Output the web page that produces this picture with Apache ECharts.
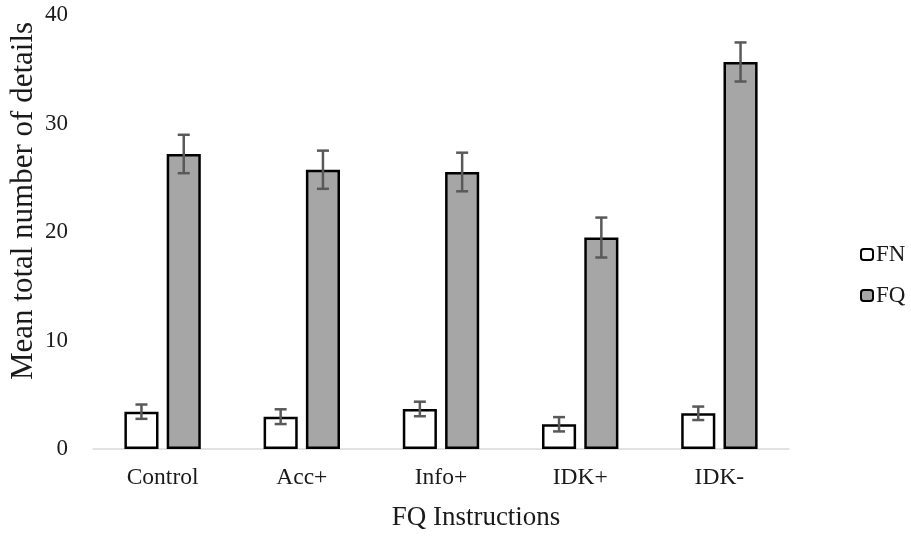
<!DOCTYPE html>
<html>
<head>
<meta charset="utf-8">
<script src="https://cdn.jsdelivr.net/npm/echarts@6/dist/echarts.min.js"></script>
<style>
  html, body { margin: 0; padding: 0; background: #fff; }
  #chart { width: 911px; height: 546px; }
</style>
</head>
<body>
<div id="chart"></div>
<script>
// Mean total number of details by instruction condition, with error bars
var categories = ['Control', 'Acc+', 'Info+', 'IDK+', 'IDK-'];
var fnMeans = [3.44, 2.98, 3.69, 2.28, 3.29];
var fnErrors = [0.66, 0.68, 0.67, 0.66, 0.62];
var fqMeans = [27.19, 25.74, 25.53, 19.49, 35.67];
var fqErrors = [1.77, 1.76, 1.78, 1.84, 1.80];
var yTicks = [0, 10, 20, 30, 40];
var xTitle = 'FQ Instructions';
var yTitle = 'Mean total number of details';

var FONT = '"Liberation Serif", "Times New Roman", serif';
var TEXT_COLOR = '#1a1a1a';
var BAR_WIDTH_RATIO = 0.245;  // bar width as a share of the category band
var BAR_GAP_RATIO = 0.24;     // gap between the two bars, as a share of bar width

function errorData(means, errs) {
  return means.map(function (m, i) { return [i, m - errs[i], m + errs[i]]; });
}

// Draws a capped vertical error bar over the bar of one series
function errorRenderer(side) {
  return function (params, api) {
    var idx = api.value(0);
    var lo = api.coord([idx, api.value(1)]);
    var hi = api.coord([idx, api.value(2)]);
    var band = api.size([1, 0])[0];
    var bw = band * BAR_WIDTH_RATIO;
    var x = lo[0] + side * (bw + bw * BAR_GAP_RATIO) / 2;
    var cap = 6;
    var style = { stroke: '#595959', lineWidth: 2.5, fill: null };
    return {
      type: 'group',
      children: [
        { type: 'line', shape: { x1: x, y1: hi[1], x2: x, y2: lo[1] }, style: style },
        { type: 'line', shape: { x1: x - cap, y1: hi[1], x2: x + cap, y2: hi[1] }, style: style },
        { type: 'line', shape: { x1: x - cap, y1: lo[1], x2: x + cap, y2: lo[1] }, style: style }
      ]
    };
  };
}

var chart = echarts.init(document.getElementById('chart'), null, { renderer: 'canvas' });

chart.setOption({
  backgroundColor: '#ffffff',
  animation: false,
  textStyle: { fontFamily: FONT, color: TEXT_COLOR },
  grid: { left: 93, right: 122, top: 15, bottom: 97, containLabel: false },
  legend: {
    orient: 'vertical',
    left: 855,
    top: 238,
    padding: 5,
    itemWidth: 12,
    itemHeight: 11,
    itemGap: 18,
    textStyle: { fontFamily: FONT, fontSize: 23, color: TEXT_COLOR, padding: [0, 0, 0, -2] },
    data: [
      { name: 'FN', itemStyle: { color: '#ffffff', borderColor: '#000', borderWidth: 2 } },
      { name: 'FQ', itemStyle: { color: '#a6a6a6', borderColor: '#000', borderWidth: 2 } }
    ]
  },
  graphic: [
    {
      type: 'text',
      x: 24,
      y: 201,
      rotation: Math.PI / 2,
      style: {
        text: yTitle,
        font: '31px ' + FONT,
        fill: TEXT_COLOR,
        align: 'center',
        verticalAlign: 'middle'
      }
    },
    {
      type: 'text',
      x: 476,
      y: 518,
      style: {
        text: xTitle,
        font: '27px ' + FONT,
        fill: TEXT_COLOR,
        align: 'center',
        verticalAlign: 'middle'
      }
    }
  ],
  xAxis: {
    type: 'category',
    data: categories,
    axisLine: { lineStyle: { color: '#d9d9d9', width: 1.5 } },
    axisTick: { show: false },
    axisLabel: { fontFamily: FONT, fontSize: 23.5, color: TEXT_COLOR, margin: 17 }
  },
  yAxis: {
    type: 'value',
    min: yTicks[0],
    max: yTicks[yTicks.length - 1],
    interval: 10,
    axisLine: { show: false },
    axisTick: { show: false },
    splitLine: { show: false },
    axisLabel: { fontFamily: FONT, fontSize: 23, color: TEXT_COLOR, margin: 25 }
  },
  series: [
    {
      name: 'FN',
      type: 'bar',
      data: fnMeans,
      barWidth: (BAR_WIDTH_RATIO * 100) + '%',
      barGap: (BAR_GAP_RATIO * 100) + '%',
      itemStyle: { color: '#ffffff', borderColor: '#000', borderWidth: 2.5 }
    },
    {
      name: 'FQ',
      type: 'bar',
      data: fqMeans,
      barWidth: (BAR_WIDTH_RATIO * 100) + '%',
      barGap: (BAR_GAP_RATIO * 100) + '%',
      itemStyle: { color: '#a6a6a6', borderColor: '#000', borderWidth: 2.5 }
    },
    {
      name: 'FN error',
      type: 'custom',
      renderItem: errorRenderer(-1),
      data: errorData(fnMeans, fnErrors),
      encode: { x: 0, y: [1, 2] },
      z: 10
    },
    {
      name: 'FQ error',
      type: 'custom',
      renderItem: errorRenderer(1),
      data: errorData(fqMeans, fqErrors),
      encode: { x: 0, y: [1, 2] },
      z: 10
    }
  ]
});
</script>
</body>
</html>
